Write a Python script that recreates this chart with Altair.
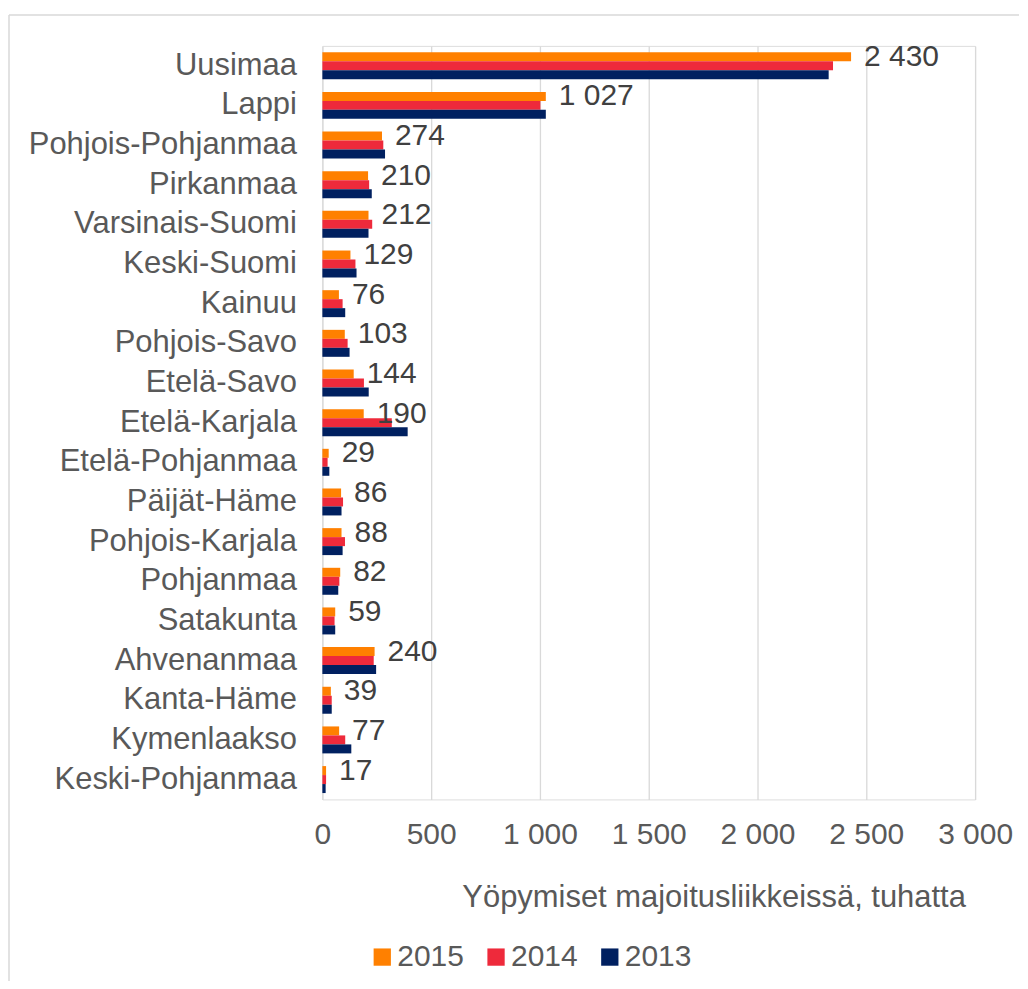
import altair as alt
import pandas as pd

regions = ["Uusimaa", "Lappi", "Pohjois-Pohjanmaa", "Pirkanmaa", "Varsinais-Suomi",
           "Keski-Suomi", "Kainuu", "Pohjois-Savo", "Etelä-Savo", "Etelä-Karjala",
           "Etelä-Pohjanmaa", "Päijät-Häme", "Pohjois-Karjala", "Pohjanmaa", "Satakunta",
           "Ahvenanmaa", "Kanta-Häme", "Kymenlaakso", "Keski-Pohjanmaa"]
v2015 = [2430, 1027, 274, 210, 212, 129, 76, 103, 144, 190, 29, 86, 88, 82, 59, 240, 39, 77, 17]
v2014 = [2347, 1002, 280, 215, 229, 152, 93, 116, 191, 319, 24, 95, 104, 78, 56, 236, 43, 105, 17]
v2013 = [2327, 1027, 288, 227, 212, 157, 105, 125, 213, 392, 32, 88, 93, 73, 59, 247, 43, 133, 15]
years = ["2015", "2014", "2013"]
colors = ["#FF8000", "#EE2A3B", "#002060"]
tick_values = [0, 500, 1000, 1500, 2000, 2500, 3000]

rows = []
for yr, vals in zip(years, [v2015, v2014, v2013]):
    for r, v in zip(regions, vals):
        rows.append({"region": r, "year": yr, "value": v,
                     "label": f"{v:,}".replace(",", " ")})
df = pd.DataFrame(rows)

FONT = "Liberation Sans"
GRAY = "#595959"

y_enc = alt.Y("region:N", sort=regions,
              scale=alt.Scale(paddingInner=0.32, paddingOuter=0.16),
              axis=alt.Axis(title=None, labelFontSize=31, labelColor=GRAY, labelFont=FONT,
                            labelPadding=26, ticks=False, domain=False, grid=False,
                            labelLimit=0))
yoff_enc = alt.YOffset("year:N", sort=years, scale=alt.Scale(domain=years, paddingInner=0, paddingOuter=0))

x_enc = alt.X("value:Q", scale=alt.Scale(domain=[0, 3000], nice=False),
              axis=alt.Axis(values=tick_values,
                            labelExpr="replace(format(datum.value, ','), ',', ' ')",
                            labelFontSize=30, labelColor=GRAY, labelFont=FONT,
                            labelOverlap=False, labelFlush=False,
                            ticks=False, tickSize=0, domain=False, grid=True,
                            gridColor="#D9D9D9", gridWidth=1.3, labelPadding=20,
                            title="Yöpymiset majoitusliikkeissä, tuhatta",
                            titleFontSize=31, titleFontWeight="normal", titleColor=GRAY,
                            titleFont=FONT, titleX=392, titleY=98, titleAlign="center",
                            titleBaseline="middle"))

bars = alt.Chart(df).mark_bar().encode(
    x=x_enc,
    y=y_enc,
    yOffset=yoff_enc,
    color=alt.Color("year:N", sort=years,
                    scale=alt.Scale(domain=years, range=colors),
                    legend=alt.Legend(title=None, orient="none", direction="horizontal",
                                      legendX=45, legendY=898, symbolType="square",
                                      symbolSize=300, symbolStrokeWidth=0,
                                      labelFontSize=30, labelColor=GRAY, labelFont=FONT,
                                      labelOffset=0, columnPadding=17, padding=0)),
)

labels = alt.Chart(df[df["year"] == "2015"]).mark_text(
    align="left", baseline="middle", dx=13, fontSize=30, font=FONT, color="#404040"
).encode(
    x="value:Q",
    y=alt.Y("region:N", sort=regions),
    yOffset=alt.YOffset("year:N", sort=years),
    text="label:N",
)

border_df = pd.DataFrame({"k": [0]})
left_border = alt.Chart(border_df).mark_rule(color="#D9D9D9", strokeWidth=1.5).encode(
    x=alt.value(-314), y=alt.value(-31), y2=alt.value(937))
top_border = alt.Chart(border_df).mark_rule(color="#D9D9D9", strokeWidth=1.5).encode(
    x=alt.value(-314), x2=alt.value(698), y=alt.value(-31))

chart = alt.layer(bars, labels, left_border, top_border).properties(
    width=654, height=755,
    padding={"left": 0, "top": 5, "right": 0, "bottom": 0},
).configure_view(stroke=None).configure(font=FONT)

chart.save("out.html", embed_options={"renderer": "svg", "actions": False})
